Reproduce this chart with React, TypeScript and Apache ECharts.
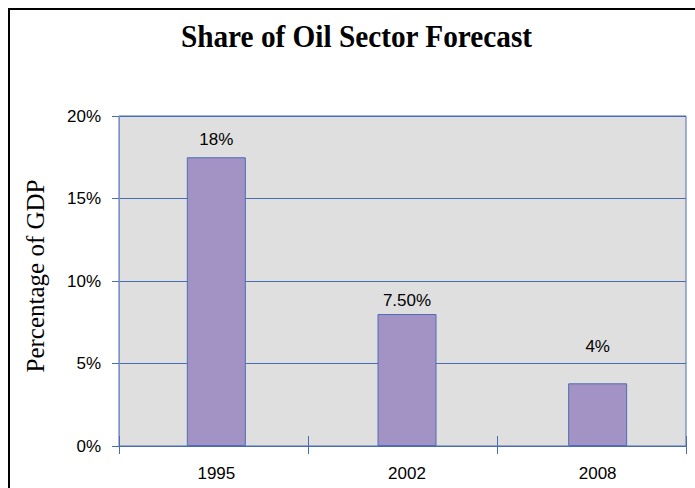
import React, { useEffect, useRef } from "react";
import * as echarts from "echarts";

const categories = ["1995", "2002", "2008"];
const shareValues = [17.5, 8.0, 3.8];
const shareLabels = ["18%", "7.50%", "4%"];
const labelGaps = [9, 5, 28];
const yTicks = { min: 0, max: 20, interval: 5 };
const titleText = "Share of Oil Sector Forecast";
const yAxisTitle = "Percentage of GDP";

const BLUE = "#4A6CB4";
const SANS = "Arial, 'Liberation Sans', sans-serif";
const SERIF = "'Times New Roman', 'Liberation Serif', serif";

export default function App() {
  const ref = useRef<HTMLDivElement>(null);
  useEffect(() => {
    if (!ref.current) return;
    const chart = echarts.init(ref.current, null, { renderer: "svg" });
    chart.setOption({
      animation: false,
      backgroundColor: "#ffffff",
      graphic: [
        {
          type: "rect",
          shape: { x: 9, y: 9, width: 720, height: 520 },
          style: { fill: "none", stroke: "#000000", lineWidth: 2 },
          silent: true,
        },
        {
          type: "text",
          x: 356.5,
          y: 36.5,
          scaleX: 0.915,
          style: {
            text: titleText,
            font: `bold 32px ${SERIF}`,
            fill: "#000000",
            align: "center",
            verticalAlign: "middle",
          },
        },
        {
          type: "text",
          x: 35,
          y: 276,
          rotation: Math.PI / 2,
          style: {
            text: yAxisTitle,
            font: `25px ${SERIF}`,
            fill: "#000000",
            align: "center",
            verticalAlign: "middle",
          },
        },
      ],
      grid: [
        {
          left: 119,
          top: 116,
          width: 567,
          height: 330,
          show: true,
          backgroundColor: "#DFDFDF",
          borderColor: BLUE,
          borderWidth: 1,
        },
        { left: 121, top: 116, width: 572, height: 330 },
      ],
      xAxis: [
        {
          type: "category",
          gridIndex: 0,
          data: categories,
          boundaryGap: true,
          axisLine: { show: true, lineStyle: { color: BLUE, width: 1 } },
          axisTick: { show: true, length: 8, lineStyle: { color: BLUE } },
          axisLabel: { show: false },
        },
        {
          type: "category",
          gridIndex: 0,
          data: categories,
          position: "bottom",
          boundaryGap: true,
          axisLine: { show: false },
          axisTick: { show: true, inside: true, length: 10, lineStyle: { color: BLUE } },
          axisLabel: { show: false },
        },
        {
          type: "category",
          gridIndex: 1,
          data: categories,
          axisLine: { show: false },
          axisTick: { show: false },
          axisLabel: {
            show: true,
            fontSize: 17,
            fontFamily: SANS,
            color: "#000000",
            margin: 19,
          },
        },
      ],
      yAxis: [
        {
          type: "value",
          gridIndex: 0,
          min: yTicks.min,
          max: yTicks.max,
          interval: yTicks.interval,
          axisLine: { show: true, lineStyle: { color: "#7A93CC", width: 1 } },
          axisTick: { show: true, length: 7, lineStyle: { color: BLUE } },
          splitLine: { show: true, lineStyle: { color: BLUE, width: 1 } },
          axisLabel: {
            formatter: "{value}%",
            fontSize: 17,
            fontFamily: SANS,
            color: "#000000",
            margin: 18,
          },
        },
        {
          type: "value",
          gridIndex: 1,
          min: yTicks.min,
          max: yTicks.max,
          interval: yTicks.interval,
          show: false,
          splitLine: { show: false },
        },
      ],
      series: [
        {
          type: "bar",
          xAxisIndex: 2,
          yAxisIndex: 1,
          barWidth: 59,
          data: shareValues.map((v, i) => ({
            value: v,
            label: {
              show: true,
              position: "top",
              distance: labelGaps[i],
              formatter: shareLabels[i],
              fontSize: 17,
              fontFamily: SANS,
              color: "#000000",
            },
          })),
          itemStyle: {
            color: "#A392C4",
            borderColor: "#4F6DB6",
            borderWidth: 1,
          },
        },
      ],
    });
    return () => chart.dispose();
  }, []);
  return (
    <div
      ref={ref}
      style={{ position: "fixed", left: 0, top: 0, width: 695, height: 488 }}
    />
  );
}
